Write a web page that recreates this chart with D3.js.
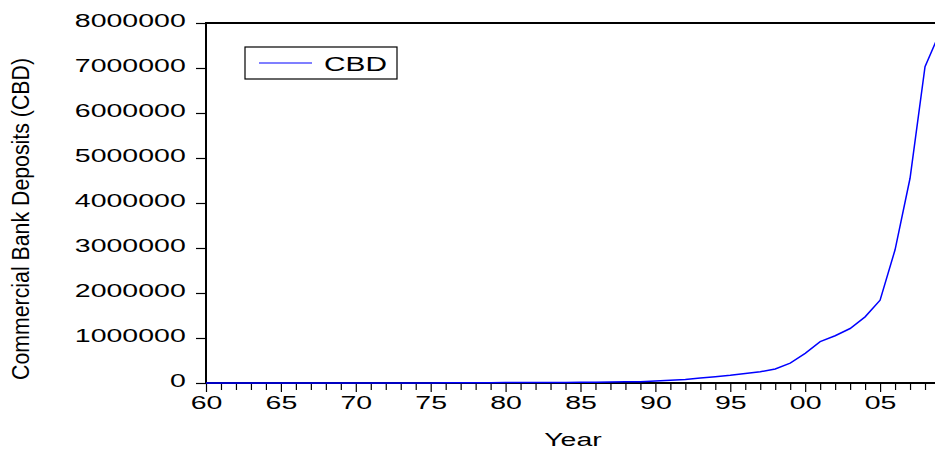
<!DOCTYPE html>
<html>
<head>
<meta charset="utf-8">
<script src="https://cdn.jsdelivr.net/npm/d3@7"></script>
<style>
  body { margin: 0; background: #fff; overflow: hidden; }
  svg { display: block; font-family: "Liberation Sans", Arial, sans-serif; }
</style>
</head>
<body>
<div id="chart"></div>
<script>
// annual observations, 1960-2009
const years = d3.range(1960, 2010);
const cbd = [
  130, 150, 170, 190, 220, 250, 280, 300, 340, 450,
  600, 700, 850, 1100, 1800, 2600, 3500, 4700, 5000, 6500,
  8500, 9500, 10500, 12000, 13500, 15000, 17000, 21000, 26000, 30000,
  45000, 60000, 80000, 110000, 140000, 170000, 210000, 250000, 310000, 440000,
  660000, 920000, 1050000, 1210000, 1470000, 1840000, 2960000, 4550000, 7030000, 7800000
];
const yTicks = [0, 1000000, 2000000, 3000000, 4000000, 5000000, 6000000, 7000000, 8000000];
const xLabelYears = [1960, 1965, 1970, 1975, 1980, 1985, 1990, 1995, 2000, 2005];
const seriesName = "CBD";

const width = 935, height = 450;
const margin = {top: 23, right: -5, bottom: 67, left: 206};
const sx = 1.5; // text in the source is stretched horizontally

const svg = d3.select("#chart").append("svg")
  .attr("width", width)
  .attr("height", height);

const x = d3.scaleLinear()
  .domain([1960, 2009])
  .range([margin.left, width - margin.right]);

const y = d3.scaleLinear()
  .domain([0, 8000000])
  .range([height - margin.bottom, margin.top]);

// frame
svg.append("rect")
  .attr("x", x.range()[0])
  .attr("y", y.range()[1])
  .attr("width", x.range()[1] - x.range()[0])
  .attr("height", y.range()[0] - y.range()[1])
  .attr("fill", "none")
  .attr("stroke", "#000")
  .attr("stroke-width", 2);

// x axis
const xAxis = svg.append("g")
  .attr("transform", "translate(0," + y(0) + ")")
  .call(d3.axisBottom(x)
    .tickValues(years)
    .tickSize(7)
    .tickFormat(d => xLabelYears.includes(d) ? String(d).slice(2) : ""));
xAxis.select(".domain").remove();
xAxis.selectAll(".tick line")
  .attr("stroke", "#000")
  .attr("stroke-width", 1.2)
  .attr("y2", d => xLabelYears.includes(d) ? 9 : 7);
xAxis.selectAll(".tick text")
  .attr("y", 13)
  .attr("dy", "0.71em")
  .attr("fill", "#000")
  .style("font-size", "19px")
  .attr("transform", "scale(" + sx + ",1)");

// y axis
const yAxis = svg.append("g")
  .attr("transform", "translate(" + x.range()[0] + ",0)")
  .call(d3.axisLeft(y)
    .tickValues(yTicks)
    .tickSize(10)
    .tickFormat(d3.format("d")));
yAxis.select(".domain").remove();
yAxis.selectAll(".tick line")
  .attr("stroke", "#000")
  .attr("stroke-width", 1.2);
yAxis.selectAll(".tick text")
  .attr("x", -13.5)
  .attr("y", 3)
  .attr("dy", 0)
  .attr("fill", "#000")
  .style("font-size", "19px")
  .attr("transform", "scale(" + sx + ",1)");

// line
const line = d3.line()
  .x((d, i) => x(years[i]))
  .y(d => y(d));

svg.append("path")
  .datum(cbd)
  .attr("fill", "none")
  .attr("stroke", "#0000ff")
  .attr("stroke-width", 1.5)
  .attr("d", line);

// axis titles
svg.append("text")
  .attr("transform", "translate(573,446) scale(" + sx + ",1)")
  .attr("text-anchor", "middle")
  .style("font-size", "19px")
  .text("Year");

svg.append("text")
  .attr("transform", "translate(29,219) scale(1.25,1) rotate(-90)")
  .attr("text-anchor", "middle")
  .attr("textLength", 322)
  .attr("lengthAdjust", "spacingAndGlyphs")
  .style("font-size", "19px")
  .text("Commercial Bank Deposits (CBD)");

// legend
const legend = svg.append("g").attr("transform", "translate(245,47)");
legend.append("rect")
  .attr("width", 152)
  .attr("height", 32)
  .attr("fill", "#fff")
  .attr("stroke", "#000")
  .attr("stroke-width", 1.2);
legend.append("line")
  .attr("x1", 14).attr("x2", 67)
  .attr("y1", 16).attr("y2", 16)
  .attr("stroke", "#0000ff")
  .attr("stroke-width", 1.2);
legend.append("text")
  .attr("transform", "translate(79,24) scale(1.42,1)")
  .style("font-size", "21px")
  .text(seriesName);
</script>
</body>
</html>
